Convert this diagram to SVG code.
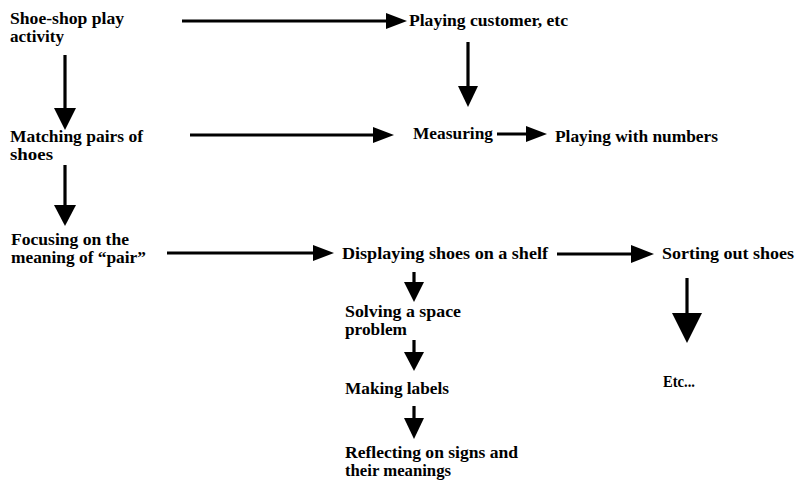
<svg xmlns="http://www.w3.org/2000/svg" width="798" height="480" viewBox="0 0 798 480">
<style>
text{font-family:"Liberation Serif","Times New Roman",serif;font-weight:bold;font-size:16px;fill:#000}
.ln{stroke:#000;stroke-width:3.2;fill:none}
.ah{fill:#000;stroke:none}
</style>
<rect width="798" height="480" fill="#fff"/>
<g id="connectors">
<line class="ln" x1="182" y1="21" x2="390" y2="21"/><polygon class="ah" points="386,13 407,21 386,29"/>
<line class="ln" x1="65" y1="55" x2="65" y2="110"/><polygon class="ah" points="54,108 65,130 76,108"/>
<line class="ln" x1="190" y1="135" x2="377" y2="135"/><polygon class="ah" points="373,127 394,135 373,143"/>
<line class="ln" x1="468" y1="42" x2="468" y2="90"/><polygon class="ah" points="458,86 468,107 478,86"/>
<line class="ln" x1="497" y1="134" x2="530" y2="134"/><polygon class="ah" points="526,126 547,134 526,142"/>
<line class="ln" x1="65" y1="165" x2="65" y2="209"/><polygon class="ah" points="54,205 65,226 76,205"/>
<line class="ln" x1="167" y1="253" x2="317" y2="253"/><polygon class="ah" points="313,245 334,253 313,261"/>
<line class="ln" x1="557" y1="254" x2="635" y2="254"/><polygon class="ah" points="631,245 654,254 631,263"/>
<line class="ln" x1="414" y1="272" x2="414" y2="286"/><polygon class="ah" points="404,282 414,302 424,282"/>
<line class="ln" x1="414" y1="340" x2="414" y2="356"/><polygon class="ah" points="404,352 414,371 424,352"/>
<line class="ln" x1="414" y1="406" x2="414" y2="422"/><polygon class="ah" points="404,418 414,439 424,418"/>
<line class="ln" x1="687" y1="278" x2="687" y2="318" stroke-width="4"/><polygon class="ah" points="672,313 687,343 702,313"/>
</g>
<g id="n-shoeshop"><text x="10" y="24" textLength="114" lengthAdjust="spacingAndGlyphs">Shoe-shop play</text><text x="10" y="42" textLength="54" lengthAdjust="spacingAndGlyphs">activity</text></g>
<g id="n-customer"><text x="409" y="26" textLength="159" lengthAdjust="spacingAndGlyphs">Playing customer, etc</text></g>
<g id="n-matching"><text x="10" y="142" textLength="133" lengthAdjust="spacingAndGlyphs">Matching pairs of</text><text x="10" y="160" textLength="43" lengthAdjust="spacingAndGlyphs">shoes</text></g>
<g id="n-measuring"><text x="413" y="139" textLength="80" lengthAdjust="spacingAndGlyphs">Measuring</text></g>
<g id="n-numbers"><text x="555" y="142" textLength="163" lengthAdjust="spacingAndGlyphs">Playing with numbers</text></g>
<g id="n-focusing"><text x="11" y="245" textLength="118" lengthAdjust="spacingAndGlyphs">Focusing on the</text><text x="11" y="263" textLength="135" lengthAdjust="spacingAndGlyphs">meaning of “pair”</text></g>
<g id="n-displaying"><text x="342" y="259" textLength="206" lengthAdjust="spacingAndGlyphs">Displaying shoes on a shelf</text></g>
<g id="n-sorting"><text x="662" y="259" textLength="132" lengthAdjust="spacingAndGlyphs">Sorting out shoes</text></g>
<g id="n-solving"><text x="345" y="317" textLength="116" lengthAdjust="spacingAndGlyphs">Solving a space</text><text x="345" y="335" textLength="62" lengthAdjust="spacingAndGlyphs">problem</text></g>
<g id="n-labels"><text x="345" y="394" textLength="104" lengthAdjust="spacingAndGlyphs">Making labels</text></g>
<g id="n-reflecting"><text x="345" y="458" textLength="173" lengthAdjust="spacingAndGlyphs">Reflecting on signs and</text><text x="345" y="476" textLength="106" lengthAdjust="spacingAndGlyphs">their meanings</text></g>
<g id="n-etc"><text x="663" y="387" textLength="32" lengthAdjust="spacingAndGlyphs">Etc...</text></g>
</svg>
